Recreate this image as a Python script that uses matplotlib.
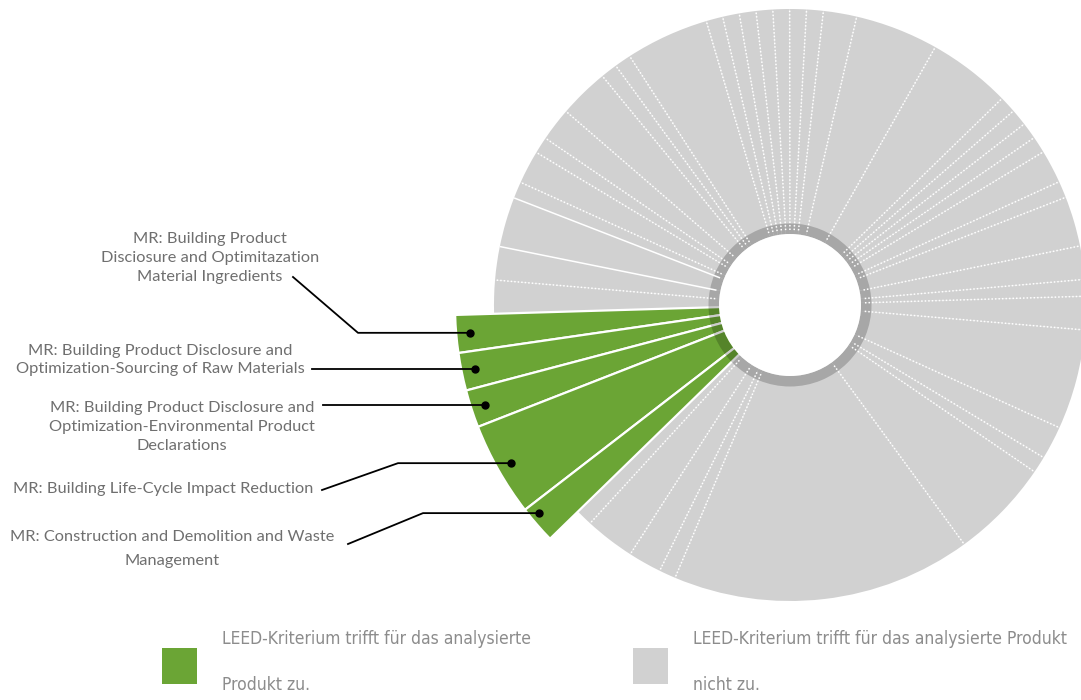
import numpy as np
import matplotlib
matplotlib.use("Agg")
import matplotlib.pyplot as plt
from matplotlib.patches import Wedge, Circle, Rectangle

# LEED credit points, in order of increasing angle starting at the green block
green_points = [2, 2, 2, 5, 2]
green_labels = [
    "MR: Building Product\nDisciosure and Optimitazation\nMaterial Ingredients",
    "MR: Building Product Disclosure and\nOptimization-Sourcing of Raw Materials",
    "MR: Building Product Disclosure and\nOptimization-Environmental Product\nDeclarations",
    "MR: Building Life-Cycle Impact Reduction",
    "MR: Construction and Demolition and Waste\nManagement",
]
gray_points = [1, 3, 2, 1, 18, 6, 1, 2, 6, 2, 1, 2, 3, 1, 2, 1, 1, 1, 1, 5, 5, 2, 1,
               1, 1, 1, 1, 1, 1, 5, 1, 1, 3, 2, 1, 2, 1, 3, 2, 2]
legend_labels = ["LEED-Kriterium trifft für das analysierte\nProdukt zu.",
                 "LEED-Kriterium trifft für das analysierte Produkt\nnicht zu."]

GREEN = "#6ba535"
GRAY = "#d1d1d1"
H = 700
cx, cy = 790, H - 305
r_gray, r_green = 296, 335
start = 181.7
solid_gray_edges = {36, 37}   # separators that look solid in the original

fig = plt.figure(figsize=(10.81, 7), dpi=100)
ax = fig.add_axes([0, 0, 1, 1])
ax.set_xlim(0, 1081)
ax.set_ylim(0, H)
ax.axis("off")

total = sum(green_points) + sum(gray_points)
deg = 360.0 / total

# gray slices
edges_gray = start + deg * (sum(green_points) + np.concatenate([[0], np.cumsum(gray_points)]))
for a0, a1 in zip(edges_gray[:-1], edges_gray[1:]):
    ax.add_patch(Wedge((cx, cy), r_gray, a0, a1, facecolor=GRAY, edgecolor="none"))
for i, a in enumerate(edges_gray[1:-1]):
    t = np.radians(a)
    ls = "-" if i in solid_gray_edges else (0, (1, 1.3))
    ax.plot([cx + 75 * np.cos(t), cx + r_gray * np.cos(t)],
            [cy + 75 * np.sin(t), cy + r_gray * np.sin(t)],
            color="white", lw=1.1, linestyle=ls, solid_capstyle="butt")

# green slices
edges_green = start + deg * np.concatenate([[0], np.cumsum(green_points)])
for a0, a1 in zip(edges_green[:-1], edges_green[1:]):
    ax.add_patch(Wedge((cx, cy), r_green, a0, a1, facecolor=GREEN,
                       edgecolor="white", lw=1.6))

# center ring
ax.add_patch(Wedge((cx, cy), 81.5, 0, 360, width=10.5, facecolor="black",
                   alpha=0.2, edgecolor="none"))
ax.add_patch(Circle((cx, cy), 71, facecolor="white", edgecolor="none"))

# labels with leader lines
text_pos = [(210, 258), (160, 360), (182, 427), (163, 489), (172, 549)]
elbows = [(358, 336), None, None, (398, 461), (423, 516)]
text_end = [(293, 277), (312, 370), (323, 407), (322, 490), (348, 544)]
dot_r = [321, 321, 321, 321, 326]
dot_shift = [0, 0, 0, 0, -1.3]
for k, lab in enumerate(green_labels):
    mid = np.radians((edges_green[k] + edges_green[k + 1]) / 2 + dot_shift[k])
    dx = cx + dot_r[k] * np.cos(mid)
    dy = cy + dot_r[k] * np.sin(mid)
    xs, ys = [dx], [dy]
    if elbows[k] is not None:
        xs.append(elbows[k][0])
        ys.append(dy)
    xs.append(text_end[k][0])
    ys.append(H - text_end[k][1] if elbows[k] is not None else dy)
    ax.plot(xs, ys, color="black", lw=1.3)
    ax.plot(dx, dy, "o", color="black", ms=5)
    ls = 1.9 if k == 4 else 1.45
    ax.text(text_pos[k][0], H - text_pos[k][1], lab, ha="center", va="center",
            fontsize=11.8, color="#6f6f6f", family="Lato", linespacing=ls)

# legend
for (x0, col), lab in zip([(162, GREEN), (633, GRAY)], legend_labels):
    ax.add_patch(Rectangle((x0, H - 684), 35, 36, facecolor=col, edgecolor="none"))
    ax.text(x0 + 60, H - 662, lab, ha="left", va="center", fontsize=12.5,
            color="#8c8c8c", family="DejaVu Sans", fontstretch="condensed",
            linespacing=3.0)

fig.savefig("out.png", dpi=100)
